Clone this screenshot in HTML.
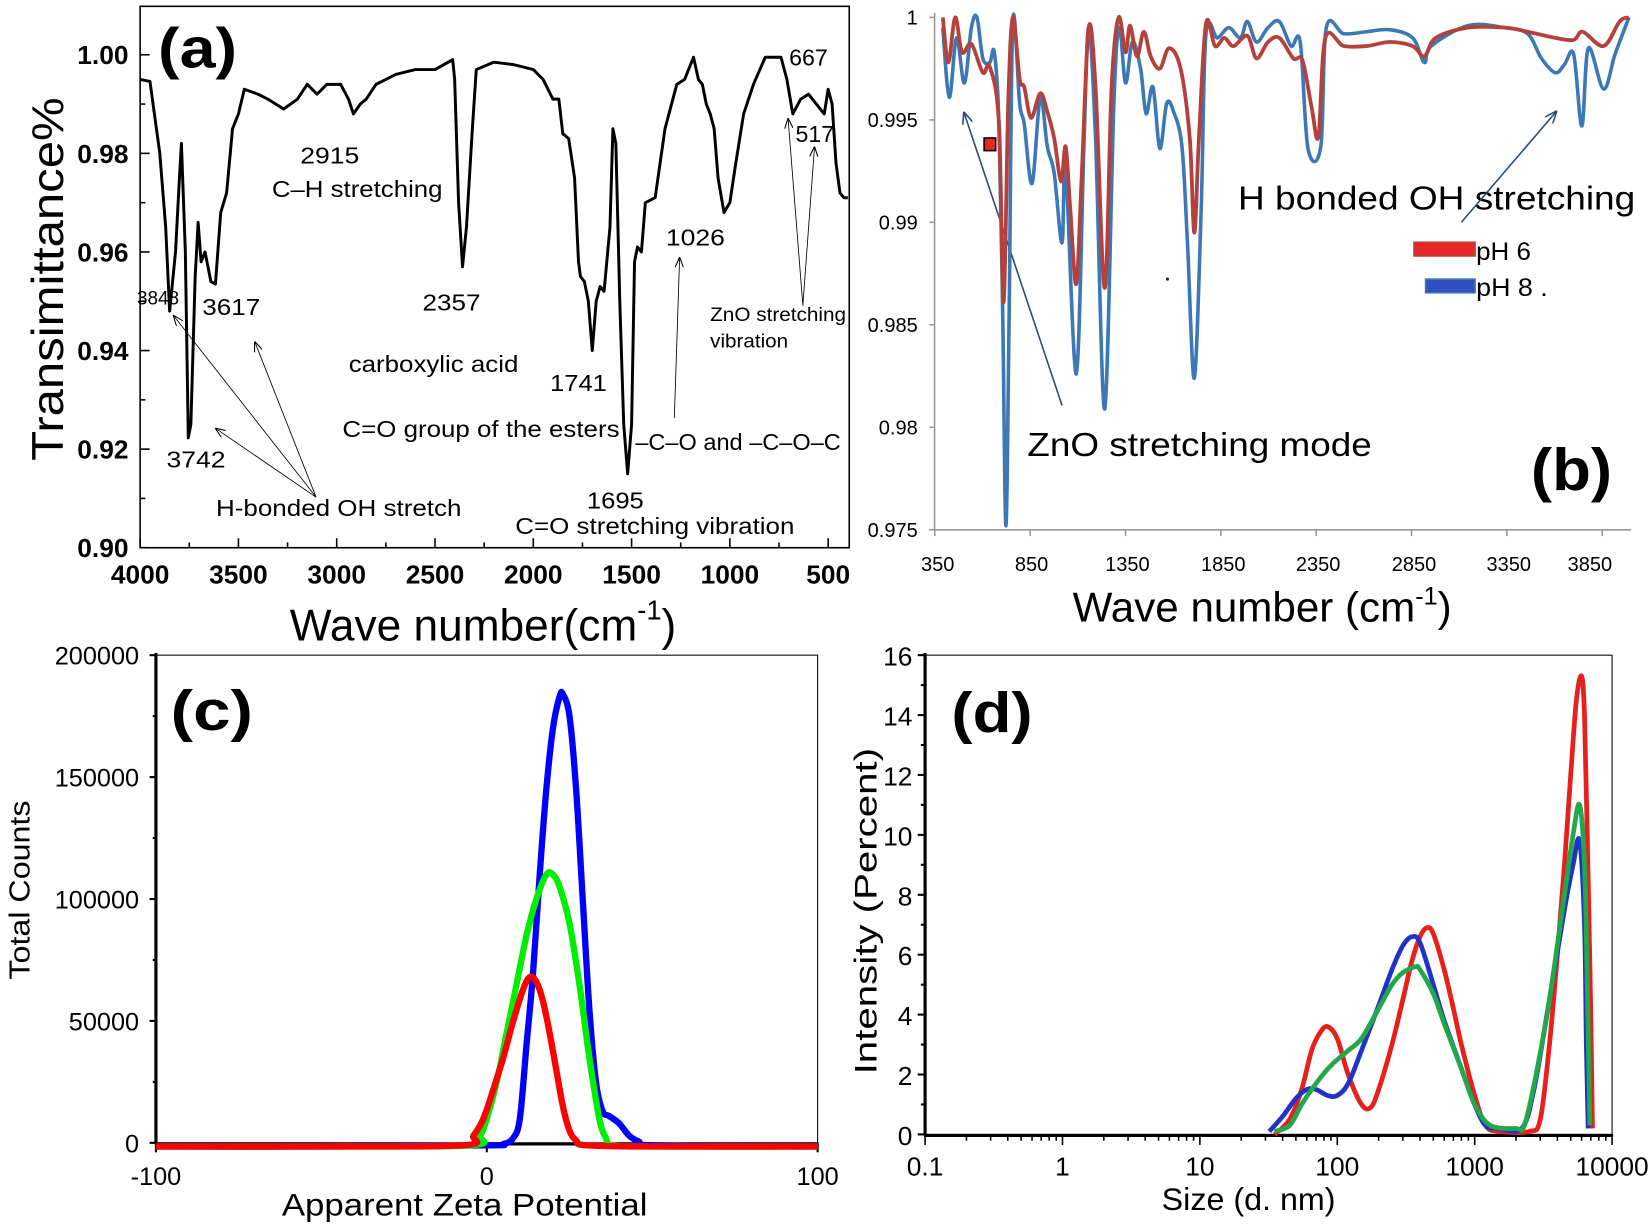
<!DOCTYPE html>
<html><head><meta charset="utf-8"><style>
html,body{margin:0;padding:0;background:#fff;}
svg{display:block;}
text{font-family:"Liberation Sans",sans-serif;}
</style></head><body>
<svg id="fig" width="1650" height="1225" viewBox="0 0 1566 1163" preserveAspectRatio="none" xmlns="http://www.w3.org/2000/svg">
<defs>
<marker id="arr" markerWidth="10" markerHeight="8" refX="9" refY="4" orient="auto" markerUnits="userSpaceOnUse"><path d="M0,0 L10,4 L0,8" fill="none" stroke="#000" stroke-width="1"/></marker>
<marker id="arrb" markerWidth="12" markerHeight="10" refX="11" refY="5" orient="auto" markerUnits="userSpaceOnUse"><path d="M0,0 L12,5 L0,10" fill="none" stroke="#2a4b7c" stroke-width="1.5"/></marker>
</defs>
<g id="pa">
<rect x="133" y="6" width="673" height="514" fill="none" stroke="#000" stroke-width="1.5"/>
<text x="150" y="64" font-size="54" font-weight="bold" textLength="75" lengthAdjust="spacingAndGlyphs">(a)</text>
<text transform="translate(60,265) rotate(-90)" text-anchor="middle" font-size="42" textLength="345" lengthAdjust="spacingAndGlyphs">Transimittance%</text>
<text x="275" y="608" font-size="42">Wave number(cm<tspan font-size="26" dy="-20">-1</tspan><tspan dy="20">)</tspan></text>
<g font-size="22">
<text x="749" y="62">667</text>
<text x="755" y="135">517</text>
<text x="285" y="155" textLength="56" lengthAdjust="spacingAndGlyphs">2915</text>
<text x="258" y="187" textLength="162" lengthAdjust="spacingAndGlyphs">C–H stretching</text>
<text x="632" y="233" textLength="56" lengthAdjust="spacingAndGlyphs">1026</text>
<text x="192" y="299" textLength="55" lengthAdjust="spacingAndGlyphs">3617</text>
<text x="401" y="295" textLength="55" lengthAdjust="spacingAndGlyphs">2357</text>
<text x="130" y="289" font-size="18" textLength="40" lengthAdjust="spacingAndGlyphs">3848</text>
<text x="674" y="305" font-size="18" textLength="129" lengthAdjust="spacingAndGlyphs">ZnO stretching</text>
<text x="674" y="330" font-size="18" textLength="74" lengthAdjust="spacingAndGlyphs">vibration</text>
<text x="331" y="353" textLength="161" lengthAdjust="spacingAndGlyphs">carboxylic acid</text>
<text x="522" y="371" textLength="54" lengthAdjust="spacingAndGlyphs">1741</text>
<text x="158" y="444" textLength="56" lengthAdjust="spacingAndGlyphs">3742</text>
<text x="325" y="415" textLength="263" lengthAdjust="spacingAndGlyphs">C=O group of the esters</text>
<text x="603" y="427" textLength="195" lengthAdjust="spacingAndGlyphs">–C–O and –C–O–C</text>
<text x="205" y="490" textLength="233" lengthAdjust="spacingAndGlyphs">H-bonded OH stretch</text>
<text x="557" y="483" textLength="54" lengthAdjust="spacingAndGlyphs">1695</text>
<text x="489" y="507" textLength="265" lengthAdjust="spacingAndGlyphs">C=O stretching vibration</text>
</g>
<g stroke="#000" stroke-width="0.8" fill="none">
<line x1="300" y1="472" x2="165" y2="300" marker-end="url(#arr)"/>
<line x1="300" y1="472" x2="205" y2="407" marker-end="url(#arr)"/>
<line x1="300" y1="472" x2="242" y2="325" marker-end="url(#arr)"/>
<line x1="640" y1="397" x2="645" y2="245" marker-end="url(#arr)"/>
<line x1="762" y1="290" x2="748" y2="113" marker-end="url(#arr)"/>
<line x1="762" y1="290" x2="773" y2="140" marker-end="url(#arr)"/>
</g>
</g>
<g id="pb">
<line x1="887" y1="12" x2="887" y2="503" stroke="#999" stroke-width="1.5"/>
<line x1="887" y1="503" x2="1548" y2="503" stroke="#999" stroke-width="1.5"/>
<text x="1018" y="590" font-size="40">Wave number (cm<tspan font-size="24" dy="-16">-1</tspan><tspan dy="16">)</tspan></text>
<text x="1175" y="199" font-size="32" textLength="377" lengthAdjust="spacingAndGlyphs">H bonded OH stretching</text>
<text x="975" y="433" font-size="32" textLength="327" lengthAdjust="spacingAndGlyphs">ZnO stretching mode</text>
<text x="1453" y="465" font-size="56" font-weight="bold" textLength="77" lengthAdjust="spacingAndGlyphs">(b)</text>
<rect x="1342" y="230" width="58" height="13" fill="#e8262a" stroke="#b5413c" stroke-width="1.5"/>
<text x="1401" y="247" font-size="24" textLength="52" lengthAdjust="spacingAndGlyphs">pH 6</text>
<rect x="1353" y="265" width="47" height="13" fill="#3050c0" stroke="#3b78b5" stroke-width="1.5"/>
<text x="1401" y="281" font-size="24" textLength="68" lengthAdjust="spacingAndGlyphs">pH 8  .</text>
<rect x="934" y="131" width="11" height="12" fill="#e8262a" stroke="#000" stroke-width="1.5"/>
<circle cx="1108" cy="265" r="1.5" fill="#223"/>
<line x1="1008" y1="385" x2="915" y2="107" stroke="#2a4b7c" stroke-width="1.5" marker-end="url(#arrb)"/>
<line x1="1387" y1="211" x2="1477" y2="106" stroke="#2a4b7c" stroke-width="1.5" marker-end="url(#arrb)"/>
</g>
<g id="pc">
<rect x="148" y="622" width="628" height="463" fill="none" stroke="#000" stroke-width="1"/>
<line x1="148" y1="620" x2="148" y2="1086" stroke="#000" stroke-width="3"/>
<line x1="147" y1="1086" x2="777" y2="1086" stroke="#000" stroke-width="3"/>
<text x="162" y="693" font-size="54" font-weight="bold" textLength="78" lengthAdjust="spacingAndGlyphs">(c)</text>
<text transform="translate(28,845) rotate(-90)" text-anchor="middle" font-size="27" textLength="170" lengthAdjust="spacingAndGlyphs">Total Counts</text>
<text x="441" y="1154" text-anchor="middle" font-size="30" textLength="347" lengthAdjust="spacingAndGlyphs">Apparent Zeta Potential</text>
</g>
<g id="pd">
<rect x="878" y="622" width="652" height="455" fill="none" stroke="#000" stroke-width="1"/>
<line x1="878" y1="620" x2="878" y2="1078" stroke="#000" stroke-width="3"/>
<line x1="877" y1="1078" x2="1531" y2="1078" stroke="#000" stroke-width="3"/>
<text x="903" y="695" font-size="54" font-weight="bold" textLength="77" lengthAdjust="spacingAndGlyphs">(d)</text>
<text transform="translate(832,865) rotate(-90)" text-anchor="middle" font-size="30" textLength="310" lengthAdjust="spacingAndGlyphs">Intensity (Percent)</text>
<text x="1185" y="1149" text-anchor="middle" font-size="30" textLength="165" lengthAdjust="spacingAndGlyphs">Size (d. nm)</text>
</g>
</svg>
<script>
// ---------- Panel (a) data ----------
const aWn = [4000,3950,3900,3870,3850,3820,3800,3790,3770,3755,3742,3720,3705,3690,3670,3640,3617,3590,3560,3530,3500,3470,3400,3350,3270,3200,3150,3100,3050,2980,2940,2915,2880,2850,2800,2700,2600,2500,2410,2400,2380,2360,2340,2310,2290,2200,2100,2000,1950,1900,1870,1850,1820,1790,1770,1760,1740,1720,1700,1680,1660,1640,1610,1595,1580,1560,1540,1520,1500,1485,1470,1450,1430,1380,1330,1270,1230,1200,1185,1160,1140,1120,1100,1080,1060,1030,1000,970,930,880,820,740,710,680,640,600,560,520,500,480,460,440,420,400];
const aT = [0.995,0.9946,0.980,0.965,0.948,0.960,0.975,0.982,0.960,0.9223,0.925,0.955,0.966,0.958,0.960,0.954,0.9535,0.968,0.972,0.985,0.988,0.993,0.992,0.991,0.989,0.991,0.994,0.992,0.994,0.994,0.991,0.988,0.990,0.991,0.994,0.996,0.997,0.997,0.999,0.995,0.970,0.957,0.965,0.985,0.997,0.9985,0.998,0.997,0.995,0.991,0.991,0.984,0.983,0.975,0.958,0.955,0.954,0.950,0.940,0.950,0.953,0.952,0.965,0.985,0.982,0.950,0.925,0.915,0.925,0.958,0.961,0.960,0.970,0.971,0.985,0.994,0.995,0.998,0.9995,0.995,0.994,0.990,0.988,0.985,0.975,0.968,0.970,0.978,0.988,0.994,0.9995,0.9995,0.995,0.988,0.991,0.992,0.990,0.988,0.993,0.990,0.978,0.972,0.971,0.971];
const aYTicks = [0.90,0.92,0.94,0.96,0.98,1.00];
const aXTicks = [4000,3500,3000,2500,2000,1500,1000,500];

// ---------- Panel (b) data ----------
const bRedWn = [392,421,457,493,542,602,638,686,711,735,759,795,819,855,903,940,976,1012,1036,1060,1092,1121,1157,1193,1241,1277,1314,1350,1374,1410,1446,1482,1530,1579,1639,1687,1711,1735,1772,1820,1868,1916,1989,2037,2097,2157,2230,2278,2326,2362,2398,2495,2615,2736,2856,2917,2977,3146,3338,3459,3604,3700,3748,3857,3941,3990];
const bRedT = [1.0,0.9978,1.0,0.9983,0.9987,0.9973,0.9976,0.9949,0.9861,0.9958,1.0,0.997,0.9966,0.9951,0.9963,0.9954,0.9941,0.992,0.9937,0.9907,0.987,0.9924,0.9995,0.9966,0.9868,0.9966,1.0,0.9983,0.9996,0.9981,0.9993,0.9981,0.9975,0.9985,0.9975,0.9941,0.9895,0.9941,0.9997,0.9986,0.999,0.9986,0.9991,0.998,0.9988,0.999,0.998,0.9979,0.9956,0.9942,0.999,0.9986,0.9986,0.9988,0.9986,0.9981,0.999,0.9995,0.9995,0.9993,0.999,0.9989,0.9993,0.9986,0.9998,1.0];
const bBlueWn = [392,426,464,505,542,571,602,638,662,686,706,723,740,759,795,819,860,903,940,976,1017,1036,1092,1133,1157,1193,1241,1289,1318,1350,1386,1429,1458,1494,1530,1566,1602,1646,1675,1711,1747,1772,1832,1892,1952,1989,2037,2097,2157,2218,2266,2307,2374,2403,2495,2615,2736,2856,2917,2953,3146,3338,3459,3531,3604,3652,3700,3743,3777,3857,3917,3990];
const bBlueT = [0.9995,0.9961,0.999,0.9968,0.9995,1.0,0.998,0.9978,0.9983,0.9949,0.9856,0.9752,0.9856,0.9998,0.9958,0.9948,0.9919,0.9961,0.9937,0.9924,0.989,0.9927,0.9826,0.9941,0.9995,0.9941,0.9809,0.9958,0.9995,0.9968,0.9988,0.9975,0.9953,0.9966,0.9936,0.9958,0.9954,0.9937,0.989,0.9824,0.9907,0.9992,0.999,0.9995,0.999,0.9998,0.9988,0.9995,0.9998,0.9986,0.9988,0.9936,0.9937,0.9995,0.9992,0.9993,0.9994,0.999,0.9978,0.9986,0.9996,0.9995,0.9992,0.998,0.9973,0.9977,0.9982,0.9947,0.9985,0.9965,0.9982,1.0];
const bYTicks = [0.975,0.98,0.985,0.99,0.995,1];
const bYLabels = ['0.975','0.98','0.985','0.99','0.995','1'];
const bXTicks = [350,850,1350,1850,2350,2850,3350,3850];

// ---------- Panel (c) data ----------
const cBlueX = [-100,-50,0,5,8,10,12,14,16,18,20,22,23,25,27,29,31,33,35,37,40,43,46,50,100];
const cBlueY = [-1500,-1500,-1000,-500,2000,10000,40000,70000,110000,145000,170000,183000,184000,175000,145000,100000,55000,25000,13000,11000,8000,3000,500,-1000,-1500];
const cGreenX = [-100,-50,-5,-2,0,3,6,9,12,15,18,20,22,25,28,31,34,36,38,50,100];
const cGreenY = [-1500,-1500,-1000,3000,10000,25000,45000,65000,85000,100000,110000,110000,105000,90000,65000,35000,10000,2000,-1000,-1500,-1500];
const cRedX = [-100,-50,-7,-4,-1,2,5,8,11,13,15,17,19,21,23,25,27,30,50,100];
const cRedY = [-1500,-1500,-1000,3000,10000,22000,35000,50000,63000,68000,66000,58000,45000,30000,15000,5000,1000,-1000,-1500,-1500];
const cYTicks = [0,50000,100000,150000,200000];
const cXTicks = [-100,0,100];

// ---------- Panel (d) data ----------
const dRedX = [35,45,55,65,75,85,100,120,150,175,200,250,300,350,400,450,500,600,700,800,1000,1200,1500,2500,3000,3500,4000,4500,5000,5500,6000,6300,6600,7000,7200];
const dRedY = [0,0.5,1.5,2.8,3.4,3.6,3.2,2.0,1.0,0.9,1.5,3.0,4.5,5.8,6.6,6.9,6.7,5.5,4.2,3.0,1.3,0.3,0.1,0.1,0.5,3,6,9,12,14.5,15.3,14,10,4,0.2];
const dBlueX = [32,40,50,60,70,85,100,120,150,200,250,300,350,400,500,600,800,1000,1200,1500,2200,2700,3500,4500,5200,5800,6300,6500,6700];
const dBlueY = [0.1,0.6,1.2,1.5,1.5,1.3,1.3,1.7,2.8,4.3,5.5,6.3,6.6,6.4,5.0,3.8,2.2,1.0,0.3,0.2,0.2,1.5,4.5,7.5,9.0,9.8,7,3,0.2];
const dGreenX = [35,45,55,70,90,120,150,200,250,300,370,400,500,600,800,1000,1300,2000,2300,2800,3500,4500,5200,5800,6300,6600,6900];
const dGreenY = [0.1,0.3,1.0,1.7,2.3,2.8,3.2,4.2,5.0,5.4,5.6,5.5,4.7,3.7,2.2,1.0,0.3,0.2,0.3,2,4.5,8,10,11,9,5,0.3];
const dYTicks = [0,2,4,6,8,10,12,14,16];
const dXTicks = [0.1,1,10,100,1000,10000];

const NS = 'http://www.w3.org/2000/svg';
function mk(parent, tag, attrs){ const e=document.createElementNS(NS,tag); for(const k in attrs) e.setAttribute(k,attrs[k]); parent.appendChild(e); return e; }
function linePath(xs, ys, sx, sy){ let d=''; for(let i=0;i<xs.length;i++){ d+=(i?'L':'M')+sx(xs[i]).toFixed(2)+','+sy(ys[i]).toFixed(2); } return d; }
function smoothPath(xs, ys, sx, sy){
  const P=xs.map((x,i)=>[sx(x),sy(ys[i])]);
  let d='M'+P[0][0].toFixed(2)+','+P[0][1].toFixed(2);
  for(let i=0;i<P.length-1;i++){
    const p0=P[Math.max(i-1,0)],p1=P[i],p2=P[i+1],p3=P[Math.min(i+2,P.length-1)];
    const c1=[p1[0]+(p2[0]-p0[0])/6,p1[1]+(p2[1]-p0[1])/6];
    const c2=[p2[0]-(p3[0]-p1[0])/6,p2[1]-(p3[1]-p1[1])/6];
    d+='C'+c1[0].toFixed(2)+','+c1[1].toFixed(2)+' '+c2[0].toFixed(2)+','+c2[1].toFixed(2)+' '+p2[0].toFixed(2)+','+p2[1].toFixed(2);
  }
  return d;
}

// ---- Panel a ----
const pa=document.getElementById('pa');
const axX=v=>133+(4000-v)*653/3500;
const axY=v=>520-(v-0.90)*4680;
for(let v=4000; v>=500; v-=250){
  const major=(v%500===0);
  const t=mk(pa,'line',{x1:axX(v),x2:axX(v),y1:520,y2:major?511:515,stroke:'#000','stroke-width':1.5});
  
  
}
aXTicks.forEach(v=>{
  const t=mk(pa,'text',{x:axX(v),y:554,'text-anchor':'middle','font-size':25,'font-weight':'bold'});
  t.textContent=String(v);
  
  
});
for(let v=0.90; v<=1.0051; v+=0.01){
  const major=Math.abs(Math.round(v*100)%2)===0;
  const t=mk(pa,'line',{x1:133,x2:major?142:138,y1:axY(v),y2:axY(v),stroke:'#000','stroke-width':1.5});
  
  
}
aYTicks.forEach(v=>{
  const t=mk(pa,'text',{x:122,y:axY(v)+9,'text-anchor':'end','font-size':25,'font-weight':'bold'});
  t.textContent=v.toFixed(2);
  
  
});
const aLine=mk(pa,'path',{d:linePath(aWn,aT,axX,axY),fill:'none',stroke:'#000','stroke-width':2.8,'stroke-linejoin':'round'});



// ---- Panel b ----
const pb=document.getElementById('pb');
const bxX=v=>887.2+(v-350)*0.181;
const bxY=v=>503-(v-0.975)/0.005*97.3;
const bLabelPos=[890,979,1070,1161,1251,1342,1432,1509];
bXTicks.forEach((v,i)=>{
  const t=mk(pb,'line',{x1:bxX(v),x2:bxX(v),y1:503,y2:509,stroke:'#999','stroke-width':1.5});
  
  
  const l=mk(pb,'text',{x:bLabelPos[i],y:542,'text-anchor':'middle','font-size':19});
  l.textContent=String(v);
  
  
});
bYTicks.forEach((v,i)=>{
  const t=mk(pb,'line',{x1:882,x2:887,y1:bxY(v),y2:bxY(v),stroke:'#999','stroke-width':1.5});
  
  
  const l=mk(pb,'text',{x:871,y:bxY(v)+7,'text-anchor':'end','font-size':19});
  l.textContent=bYLabels[i];
  
  
});
const bBlue=mk(pb,'path',{d:smoothPath(bBlueWn,bBlueT,bxX,bxY),fill:'none',stroke:'#3b78b5','stroke-width':3.4,'stroke-linejoin':'round'});


const bRed=mk(pb,'path',{d:smoothPath(bRedWn,bRedT,bxX,bxY),fill:'none',stroke:'#b5413c','stroke-width':3.6,'stroke-linejoin':'round'});



// ---- Panel c ----
const pc=document.getElementById('pc');
const cxX=v=>462+v*3.14;
const cxY=v=>1085-v*463/200000;
for(let v=0; v<=200000; v+=25000){
  const major=v%50000===0;
  const t=mk(pc,'line',{x1:major?142:145,x2:148,y1:cxY(v),y2:cxY(v),stroke:'#000','stroke-width':2});
  
  
}
cYTicks.forEach(v=>{
  const l=mk(pc,'text',{x:132,y:cxY(v)+9,'text-anchor':'end','font-size':24});
  l.textContent=String(v);
  
  
});
for(let v=-100; v<=100; v+=50){
  const t=mk(pc,'line',{x1:cxX(v),x2:cxX(v),y1:1086,y2:v%100===0?1094:1091,stroke:'#000','stroke-width':2});
  
  
}
cXTicks.forEach(v=>{
  const l=mk(pc,'text',{x:cxX(v),y:1125,'text-anchor':'middle','font-size':24});
  l.textContent=String(v);
  
  
});
const cBlue=mk(pc,'path',{d:smoothPath(cBlueX,cBlueY,cxX,cxY),fill:'none',stroke:'#0000ff','stroke-width':6,'stroke-linejoin':'round'});


const cGreen=mk(pc,'path',{d:smoothPath(cGreenX,cGreenY,cxX,cxY),fill:'none',stroke:'#00ee00','stroke-width':6,'stroke-linejoin':'round'});


const cRed=mk(pc,'path',{d:smoothPath(cRedX,cRedY,cxX,cxY),fill:'none',stroke:'#ff0000','stroke-width':6,'stroke-linejoin':'round'});



// ---- Panel d ----
const pd=document.getElementById('pd');
const dxX=v=>878+(Math.log10(v)+1)*130.4;
const dxY=v=>1077-v*455/16;
for(let v=0; v<=16; v+=1){
  const t=mk(pd,'line',{x1:v%2===0?871:874,x2:878,y1:dxY(v),y2:dxY(v),stroke:'#000','stroke-width':2});
  
  
}
dYTicks.forEach(v=>{
  const l=mk(pd,'text',{x:866,y:dxY(v)+10,'text-anchor':'end','font-size':25});
  l.textContent=String(v);
  
  
});
for(let e=-1;e<4;e++){
  for(let m=1;m<10;m++){
    const v=m*Math.pow(10,e);
    const t=mk(pd,'line',{x1:dxX(v),x2:dxX(v),y1:1078,y2:m===1?1087:1083,stroke:'#000','stroke-width':1.5});
    
    
  }
}
const tEnd=mk(pd,'line',{x1:dxX(10000),x2:dxX(10000),y1:1078,y2:1087,stroke:'#000','stroke-width':1.5});


dXTicks.forEach(v=>{
  const l=mk(pd,'text',{x:dxX(v),y:1116,'text-anchor':'middle','font-size':25});
  l.textContent=String(v);
  
  
});
const dRed=mk(pd,'path',{d:smoothPath(dRedX,dRedY,dxX,dxY),fill:'none',stroke:'#e8201c','stroke-width':4.5,'stroke-linejoin':'round'});


const dBlue=mk(pd,'path',{d:smoothPath(dBlueX,dBlueY,dxX,dxY),fill:'none',stroke:'#1f33c8','stroke-width':4.5,'stroke-linejoin':'round'});


const dGreen=mk(pd,'path',{d:smoothPath(dGreenX,dGreenY,dxX,dxY),fill:'none',stroke:'#22a84a','stroke-width':4.5,'stroke-linejoin':'round'});


</script>
</body></html>
